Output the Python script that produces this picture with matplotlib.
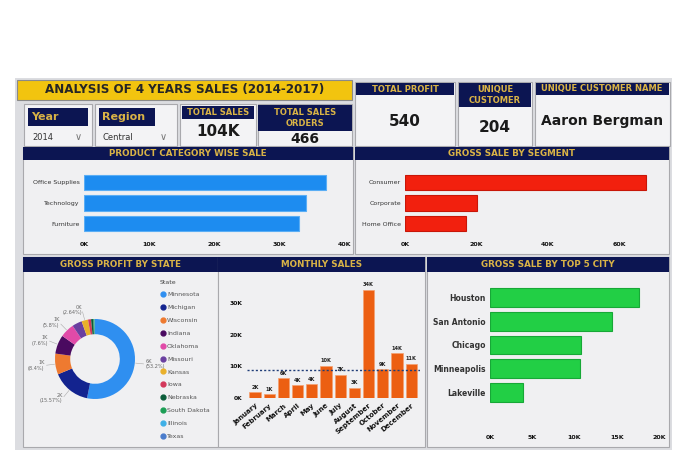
import matplotlib
matplotlib.use("Agg")
import matplotlib.pyplot as plt
from matplotlib.patches import Rectangle
from matplotlib.lines import Line2D
import numpy as np

# ---- data ----
categories = ["Office Supplies", "Technology", "Furniture"]
category_sales = [37.2, 34.1, 33.0]

segments = ["Consumer", "Corporate", "Home Office"]
segment_sales = [67.5, 20.2, 17.0]

cities = ["Houston", "San Antonio", "Chicago", "Minneapolis", "Lakeville"]
city_sales = [17.6, 14.4, 10.8, 10.6, 3.9]

months = ["January", "February", "March", "April", "May", "June", "July",
          "August", "September", "October", "November", "December"]
month_sales = [1.8, 1.2, 6.2, 4.1, 4.4, 10.2, 7.4, 3.3, 34.3, 9.1, 14.1, 10.9]

states = ["Minnesota", "Michigan", "Wisconsin", "Indiana", "Oklahoma", "Missouri",
          "Kansas", "Iowa", "Nebraska", "South Dakota", "Illinois", "Texas"]
state_pct = [53.2, 15.57, 8.4, 7.6, 5.8, 4.0, 2.64, 1.2, 0.9, 0.5, 0.15, 0.04]
state_profit_k = [6, 2, 1, 1, 1, 0, 0, 0, 0, 0, 0, 0]
state_labeled = [True, True, True, True, True, False, True, False, False, False, False, False]
state_colors = ["#2f8ff0", "#13238f", "#ee7a30", "#4a0a60", "#e14aa8", "#6a3fa0",
                "#e9b02a", "#d3385b", "#0b5d3a", "#1c9e55", "#3fb0e6", "#4a7ccc"]

W, H = 680, 458
NAVY = "#0c1552"
GOLD = "#d9b346"
PANEL = "#f0f0f2"

fig = plt.figure(figsize=(6.8, 4.58), dpi=100, facecolor="white")


def rect(x0, y0, x1, y1, fc, ec="none", lw=0.0, z=0):
    fig.add_artist(Rectangle((x0 / W, 1 - y1 / H), (x1 - x0) / W, (y1 - y0) / H,
                             transform=fig.transFigure, facecolor=fc,
                             edgecolor=ec, lw=lw, zorder=z))


def text(x, y, s, **kw):
    kw.setdefault("ha", "center")
    kw.setdefault("va", "center")
    fig.text(x / W, 1 - y / H, s, **kw)


def axes(x0, y0, x1, y1):
    a = fig.add_axes([x0 / W, 1 - y1 / H, (x1 - x0) / W, (y1 - y0) / H])
    a.patch.set_alpha(0)
    return a


def panel(x0, y0, x1, y1, title, hh=15):
    rect(x0, y0, x1, y1, PANEL, ec="#a9a9ad", lw=0.8)
    rect(x0, y0, x1, y0 + hh, NAVY)
    text((x0 + x1) / 2, y0 + hh / 2, title, color=GOLD, fontsize=6.3, fontweight="bold")


# background
rect(15, 78, 672, 450, "#dcdde1")

# title banner
rect(17, 80, 352, 100, "#f2c40f", ec="#8a8a8a", lw=0.8)
text(185, 90, "ANALYSIS OF 4 YEARS SALES (2014-2017)", fontsize=8.6,
     fontweight="bold", color="#262626")

# slicers
for (x0, x1, lx1, lab, val) in [(24, 92, 88, "Year", "2014"), (95, 177, 155, "Region", "Central")]:
    rect(x0, 104, x1, 146, "#f3f3f5", ec="#a9a9ad", lw=0.8)
    rect(x0 + 4, 108, lx1, 126, NAVY)
    text(x0 + 7, 117, lab, ha="left", color=GOLD, fontsize=8, fontweight="bold")
    text(x0 + 8, 138, val, ha="left", color="#333333", fontsize=6)
    text(x1 - 14, 137, "∨", color="#777777", fontsize=7)

# KPI cards
rect(180, 104, 256, 146, "#f3f3f5", ec="#a9a9ad", lw=0.8)
rect(182, 106, 254, 119, NAVY)
text(218, 112.5, "TOTAL SALES", color=GOLD, fontsize=6, fontweight="bold")
text(218, 131, "104K", color="#1a1a1a", fontsize=11, fontweight="bold")

rect(258, 104, 352, 146, "#f3f3f5", ec="#a9a9ad", lw=0.8)
rect(258, 105, 352, 131, NAVY)
text(305, 118, "TOTAL SALES\nORDERS", color=GOLD, fontsize=6, fontweight="bold", linespacing=1.4)
text(305, 139, "466", color="#1a1a1a", fontsize=10, fontweight="bold")

rect(355, 82, 455, 146, "#f3f3f5", ec="#a9a9ad", lw=0.8)
rect(356, 83, 454, 95, NAVY)
text(405, 89, "TOTAL PROFIT", color=GOLD, fontsize=6, fontweight="bold")
text(405, 121, "540", color="#1a1a1a", fontsize=11, fontweight="bold")

rect(458, 82, 532, 146, "#f3f3f5", ec="#a9a9ad", lw=0.8)
rect(459, 83, 531, 107, NAVY)
text(495, 95, "UNIQUE\nCUSTOMER", color=GOLD, fontsize=6, fontweight="bold", linespacing=1.4)
text(495, 127, "204", color="#1a1a1a", fontsize=11, fontweight="bold")

rect(535, 82, 670, 146, "#f3f3f5", ec="#a9a9ad", lw=0.8)
rect(536, 83, 669, 95, NAVY)
text(602, 89, "UNIQUE CUSTOMER NAME", color=GOLD, fontsize=6, fontweight="bold")
text(602, 121, "Aaron Bergman", color="#1a1a1a", fontsize=10, fontweight="bold")

# panels
panel(23, 147, 353, 254, "PRODUCT CATEGORY WISE SALE", hh=13)
panel(355, 147, 669, 254, "GROSS SALE BY SEGMENT", hh=13)
panel(23, 257, 218, 447, "GROSS PROFIT BY STATE")
panel(218, 257, 425, 447, "MONTHLY SALES")
panel(427, 257, 669, 447, "GROSS SALE BY TOP 5 CITY")


def hbar(ax, labels, vals, color, edge, xmax, ticks, pad, lsize, h):
    y = np.arange(len(labels))
    ax.barh(y, vals, height=h, color=color, edgecolor=edge, lw=0.8)
    ax.set_ylim(len(labels) - 0.5, -0.5)
    ax.set_xlim(0, xmax)
    ax.set_yticks(y)
    ax.set_yticklabels(labels, fontsize=lsize, color="#333333")
    ax.set_xticks(ticks)
    ax.set_xticklabels([f"{t}K" for t in ticks], fontsize=4.5, fontweight="bold", color="#111111")
    ax.tick_params(length=0, axis="x", pad=pad)
    ax.tick_params(length=0, axis="y", pad=3)
    for s in ax.spines.values():
        s.set_visible(False)


ax1 = axes(84, 172, 344, 234)
hbar(ax1, categories, category_sales, "#1d8cf0", "#5aaef5", 40, [0, 10, 20, 30, 40], 6, 4.5, 0.75)

ax2 = axes(405, 172, 655, 234)
hbar(ax2, segments, segment_sales, "#f2200e", "#c81608", 70, [0, 20, 40, 60], 6, 4.5, 0.75)

ax3 = axes(490, 286, 659, 404)
hbar(ax3, cities, city_sales, "#22cf45", "#17a837", 20, [0, 5, 10, 15, 20], 22, 5.5, 0.8)
for t in ax3.get_yticklabels():
    t.set_fontweight("bold")

# monthly sales
ax4 = axes(246.5, 278, 419.7, 398)
x = np.arange(len(months))
ax4.bar(x, month_sales, width=0.78, color="#ec5f12", edgecolor="#f5a070", lw=0.5)
for xi, v in zip(x, month_sales):
    ax4.text(xi, v + 0.8, f"{v:.0f}K", ha="center", va="bottom", fontsize=3.6,
             fontweight="bold", color="#222222")
ax4.axhline(np.mean(month_sales), color="#1f3d78", lw=1, ls=(0, (1.5, 1.5)))
ax4.set_xlim(-0.6, 11.6)
ax4.set_ylim(0, 38)
ax4.set_yticks([0, 10, 20, 30])
ax4.set_yticklabels(["0K", "10K", "20K", "30K"], fontsize=4.3, fontweight="bold", color="#111111")
ax4.set_xticks(x)
ax4.set_xticklabels(months, rotation=40, ha="right", rotation_mode="anchor",
                    fontsize=5, fontweight="bold", color="#111111")
ax4.tick_params(length=0, pad=3)
for s in ax4.spines.values():
    s.set_visible(False)

# donut
ax5 = axes(55, 319, 135, 399)
wedges, _ = ax5.pie(state_pct, colors=state_colors, startangle=90, counterclock=False,
                    wedgeprops=dict(width=0.38, edgecolor="none"))
ax5.set_xlim(-1, 1)
ax5.set_ylim(-1, 1)
ax5.set_aspect("equal")
for w, p, k, lab in zip(wedges, state_pct, state_profit_k, state_labeled):
    if not lab:
        continue
    ang = np.deg2rad((w.theta1 + w.theta2) / 2)
    r0, r1 = 1.02, 1.22
    ax5.plot([r0 * np.cos(ang), r1 * np.cos(ang)], [r0 * np.sin(ang), r1 * np.sin(ang)],
             color="#aaaaaa", lw=0.4, clip_on=False)
    ha = "left" if np.cos(ang) > 0 else "right"
    ax5.text(1.27 * np.cos(ang), 1.27 * np.sin(ang), f"{k}K\n({p:g}%)", ha=ha, va="center",
             fontsize=3.6, color="#666666", linespacing=1.1)

handles = [Line2D([], [], marker="o", ls="none", color=c, markersize=3.5) for c in state_colors]
leg = fig.legend(handles, states, title="State", loc="upper left",
                 bbox_to_anchor=(157 / W, 1 - 277 / H), frameon=False, fontsize=4.5,
                 title_fontsize=4.5, labelspacing=1.2, handletextpad=0.2, borderaxespad=0,
                 handlelength=1.0)
leg._legend_box.align = "left"
for t in leg.get_texts():
    t.set_color("#555555")
leg.get_title().set_color("#444444")

fig.savefig("out.png", dpi=100, facecolor="white")
